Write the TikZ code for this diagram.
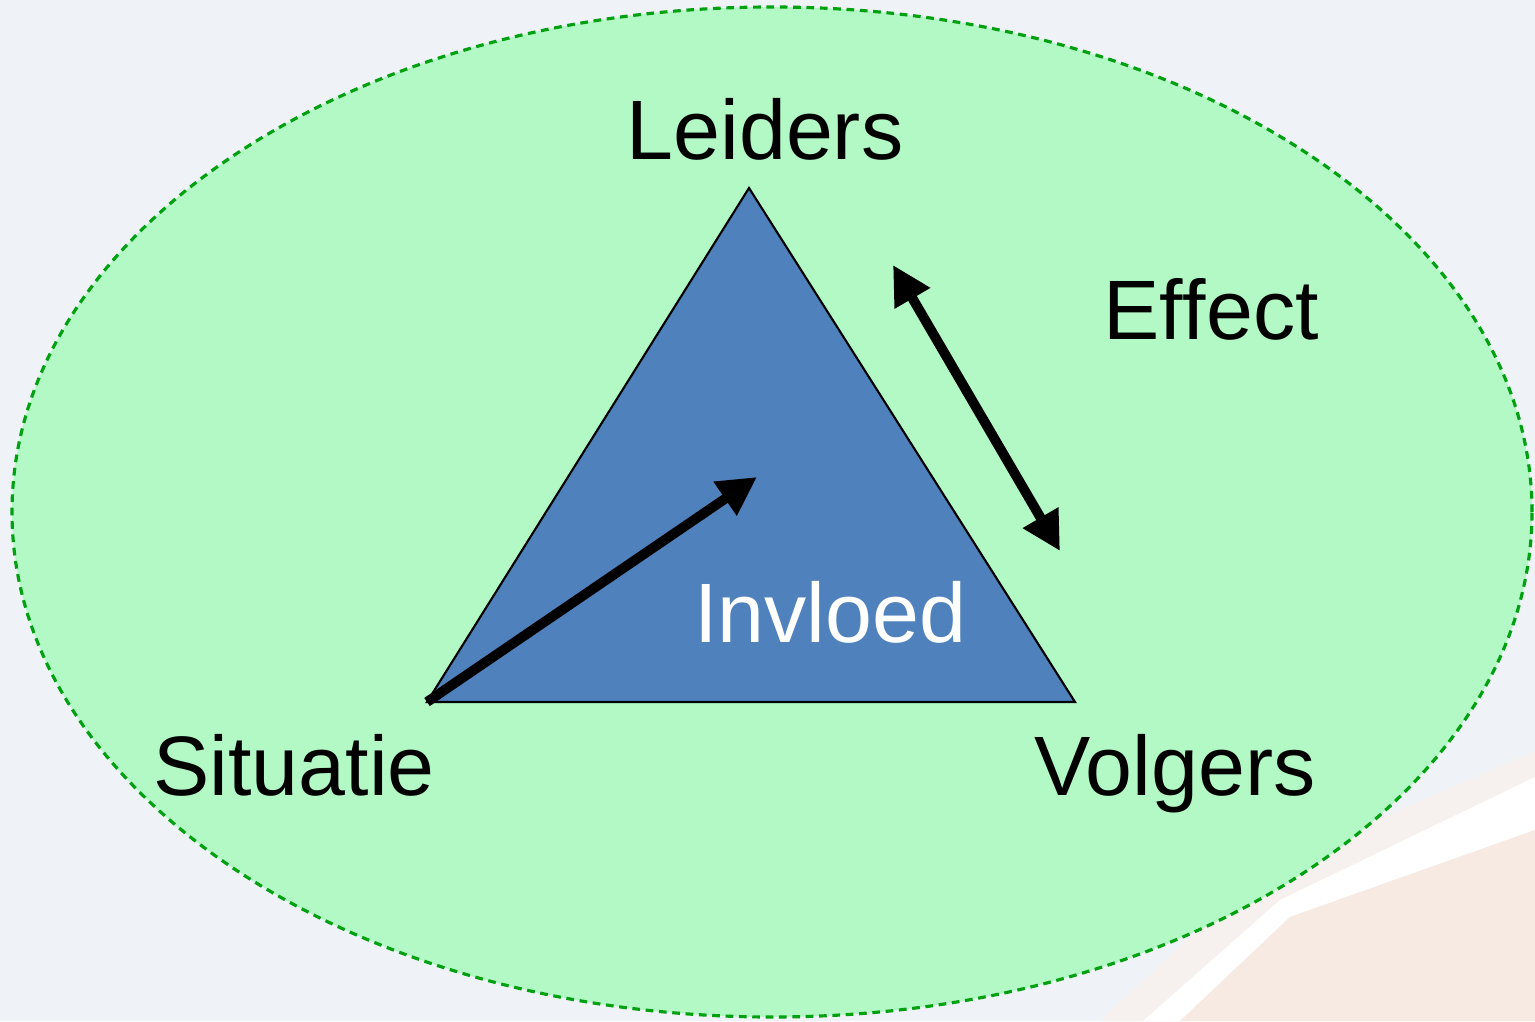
\documentclass[tikz,border=0pt]{standalone}
\usepackage{fontspec}
\setmainfont{Liberation Sans}[Ligatures=CommonOff]
\usetikzlibrary{arrows.meta}
\definecolor{bggray}{HTML}{EFF3F7}
\definecolor{bgpeach}{HTML}{F7EAE3}
\definecolor{bgtint}{HTML}{F6F1EE}
\definecolor{ovalgreen}{HTML}{B3F9C5}
\definecolor{ovalline}{HTML}{00A010}
\definecolor{triblue}{HTML}{4F81BD}

\begin{document}
\begin{tikzpicture}[
		lbl/.style={font=\fontsize{24}{28}\selectfont, anchor=base, inner sep=0pt},
		fat/.style={line width=2.8pt, -{Triangle[length=11pt,width=11pt]}}
	]
		%%%%% START %%%%%
		
		\fill[bggray] (0, 0) rectangle (15.35, 10.21);
		\useasboundingbox (0, 0) rectangle (15.35, 10.21);
		\fill[bgtint] (11.0, 0) -- (12.6, 1.5) -- (15.35, 2.7) -- (15.35, 0) -- cycle;
		\fill[white] (11.43, 0) -- (12.80, 1.21) -- (15.35, 2.44) -- (15.35, 1.91) -- (12.90, 1.04) -- (11.80, 0) -- cycle;
		\fill[bgpeach] (11.80, 0) -- (12.90, 1.04) -- (15.35, 1.91) -- (15.35, 0) -- cycle;
		
		\draw[fill=ovalgreen, draw=ovalline, line width=0.9pt, dash pattern=on 2.2pt off 1.6pt] (7.72, 5.09) ellipse (7.60 and 5.05);
		
		\coordinate (top) at (7.49, 8.33);
		\coordinate (left) at (4.27, 3.19);
		\coordinate (right) at (10.75, 3.19);
		\draw[fill=triblue, line width=0.6pt] (top) -- (right) -- (left) -- cycle;
		
		\coordinate (mid) at (7.57, 5.44);
		\draw[fat] (left) -- (mid);
		
		\coordinate (up) at (8.93, 7.56);
		\coordinate (down) at (10.60, 4.70);
		\draw[fat, {Triangle[length=11pt,width=11pt]}-{Triangle[length=11pt,width=11pt]}] (up) -- (down);
		
		\node[lbl] (leiders) at (7.65, 8.61) {Leiders};
		\node[lbl] (effect) at (12.11, 6.81) {Ef\kern0pt fect};
		\node[lbl, text=white] (invloed) at (8.30, 3.79) {Invloed};
		\node[lbl] (situatie) at (2.94, 2.26) {Situatie};
		\node[lbl] (volgers) at (11.75, 2.26) {Volgers};
		
		%%%%% END %%%%%
	\end{tikzpicture}
\end{document}
